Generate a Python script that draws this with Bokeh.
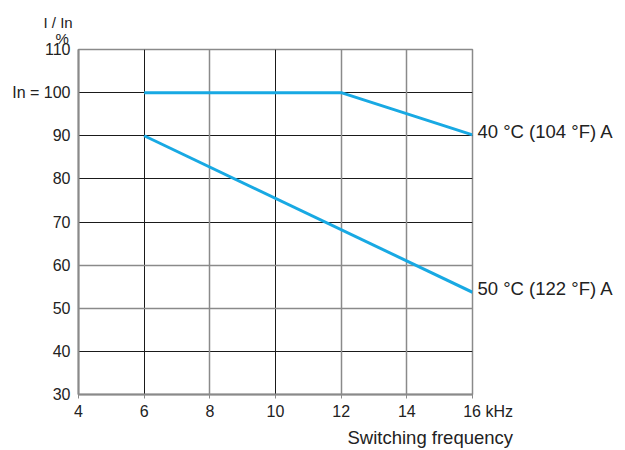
from bokeh.plotting import figure
from bokeh.models import FixedTicker, Grid, LinearAxis, Title, Range1d
from bokeh.embed import file_html
from bokeh.resources import INLINE

# ---- data ----
freq_40 = [6, 12, 16]
current_40 = [100, 100, 90.2]
freq_50 = [6, 16]
current_50 = [90, 53.7]
label_40 = "40 °C (104 °F) A"
label_50 = "50 °C (122 °F) A"
x_ticks = [4, 6, 8, 10, 12, 14, 16]
x_unit = "kHz"
y_ticks = [30, 40, 50, 60, 70, 80, 90, 100, 110]
y_rated_label = "In = 100"
x_title = "Switching frequency"
y_title = "I / In"
y_unit = "%"
x_grid_dark = [6, 10]
x_grid_light = [8, 12, 14]
y_grid_dark = [40, 70, 80, 90, 100]
y_grid_light = [50, 60]

FONT = "Liberation Sans"
BLUE = "#18A9E3"
DARK = "#1a1a1a"
GRAY = "#8a8a8a"
TXT = "#222222"
NB = "\u00a0"

YMIN, YMAX = 30, 110
p = figure(width=625, height=450, output_backend="svg", toolbar_location=None,
           x_range=Range1d(4, 16), y_range=Range1d(YMIN, YMAX))
p.min_border_left = 78
p.min_border_right = 153
p.min_border_top = 49
p.min_border_bottom = 56
p.outline_line_color = GRAY
p.outline_line_width = 1.5

# grids
p.xgrid.ticker = FixedTicker(ticks=x_grid_dark)
p.xgrid.grid_line_color = DARK
p.xgrid.grid_line_width = 1
p.ygrid.ticker = FixedTicker(ticks=y_grid_dark)
p.ygrid.grid_line_color = DARK
p.ygrid.grid_line_width = 1
p.add_layout(Grid(dimension=0, ticker=FixedTicker(ticks=x_grid_light),
                  grid_line_color=GRAY, grid_line_width=1.5))
p.add_layout(Grid(dimension=1, ticker=FixedTicker(ticks=y_grid_light),
                  grid_line_color=GRAY, grid_line_width=1.5))

# axes
p.xaxis.ticker = FixedTicker(ticks=x_ticks)
p.xaxis.major_label_overrides = {x_ticks[-1]: NB * 7 + str(x_ticks[-1]) + " " + x_unit}
p.yaxis.ticker = FixedTicker(ticks=y_ticks)
p.yaxis.major_label_overrides = {100: y_rated_label}
for ax in (p.xaxis[0], p.yaxis[0]):
    ax.axis_line_color = GRAY
    ax.axis_line_width = 2
    ax.minor_tick_line_color = None
    ax.major_label_text_font = FONT
    ax.major_label_text_font_size = "16px"
    ax.major_label_text_color = TXT
p.xaxis.major_tick_line_color = GRAY
p.xaxis.major_tick_out = 4
p.xaxis.major_tick_in = 0
p.xaxis.major_label_standoff = 4
p.yaxis.major_tick_line_color = None
p.yaxis.major_tick_out = 0
p.yaxis.major_tick_in = 0
p.yaxis.major_label_standoff = 8

# right axis carrying the curve labels (range nudged so text sits just above line ends)
nudge = 0.9
p.extra_y_ranges = {"labels": Range1d(YMIN - nudge, YMAX - nudge)}
end_vals = [current_40[-1], current_50[-1]]
raxis = LinearAxis(y_range_name="labels", ticker=FixedTicker(ticks=end_vals),
                   major_label_overrides={current_40[-1]: label_40, current_50[-1]: label_50},
                   axis_line_color=None, major_tick_line_color=None, minor_tick_line_color=None,
                   major_tick_out=0, major_tick_in=0, major_label_standoff=5,
                   major_label_text_font=FONT, major_label_text_font_size="18.5px",
                   major_label_text_color=TXT)
p.add_layout(raxis, "right")

# curves
p.line(freq_40, current_40, line_color=BLUE, line_width=3)
p.line(freq_50, current_50, line_color=BLUE, line_width=3)

# titles (stacked outward from the frame)
p.add_layout(Title(text=y_unit, align="left", offset=-23, standoff=5,
                   text_font=FONT, text_font_size="15px", text_font_style="normal",
                   text_color=TXT), "above")
p.add_layout(Title(text=y_title, align="left", offset=-35, standoff=-11,
                   text_font=FONT, text_font_size="15px", text_font_style="normal",
                   text_color=TXT), "above")
p.add_layout(Title(text=x_title, align="left", offset=269, standoff=4,
                   text_font=FONT, text_font_size="18.5px", text_font_style="normal",
                   text_color=TXT), "below")

open("out.html", "w").write(file_html(p, INLINE))
